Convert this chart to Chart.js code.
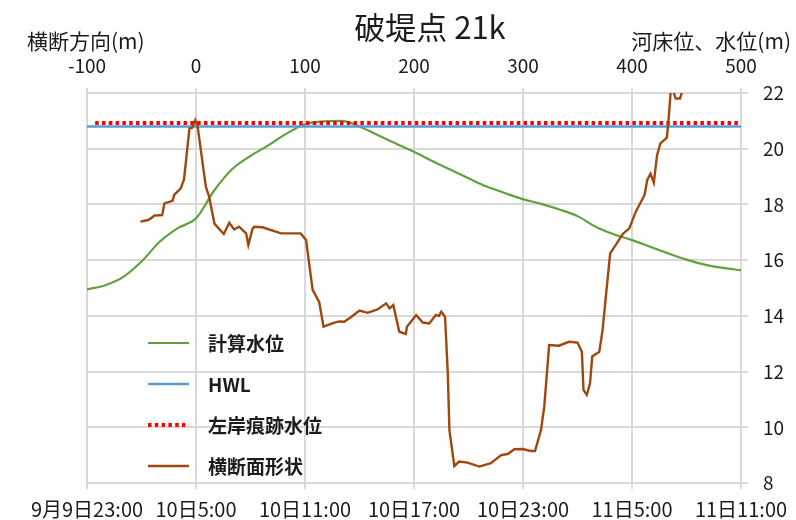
<!DOCTYPE html>
<html lang="ja">
<head>
<meta charset="utf-8">
<title>破堤点 21k</title>
<script src="https://cdn.jsdelivr.net/npm/chart.js@4.4.1/dist/chart.umd.min.js"></script>
<style>
  html, body { margin: 0; padding: 0; background: #fff; }
  #wrap { width: 796px; height: 520px; position: relative; }
</style>
</head>
<body>
<div id="wrap"><canvas id="levelChart"></canvas></div>
<script>
// --- data ---
const chartTitle = '破堤点 21k';
const topAxisTitle = '横断方向(m)';
const rightAxisTitle = '河床位、水位(m)';

// bottom axis: hours since 9月9日23:00, labelled every 6 hours
const timeLabels = ['9月9日23:00', '10日5:00', '10日11:00', '10日17:00', '10日23:00', '11日5:00', '11日11:00'];

// 計算水位, hourly from 9日23:00 to 11日11:00
const calcLevel = [
    14.95, 15.1, 15.4, 15.95, 16.66, 17.15, 17.5, 18.5, 19.27, 19.74,
    20.13, 20.55, 20.88, 20.98, 21.0, 20.8, 20.49, 20.19, 19.89, 19.56,
    19.25, 18.94, 18.64, 18.41, 18.19, 18.02, 17.82, 17.58, 17.2, 16.93,
    16.72, 16.48, 16.24, 16.02, 15.84, 15.72, 15.64
];

const hwlHours = [0, 36];
const hwlLevel = [20.8, 20.8];

const markHours = [0.45, 36];
const markLevel = [20.92, 20.92];

// 横断面形状: distance (m) and bed elevation (m)
const sectionDist = [
    -51, -44, -40, -38.5, -31, -29, -21.5, -20, -14, -11,
    -6, -3.5, -0.6, 1.5, 9, 12, 17, 25.5, 30.5, 35,
    39.5, 46, 48, 52, 53.5, 61, 78, 96, 101, 107,
    113, 117, 127, 131.5, 136, 142, 150, 157.5, 166.5, 174.5,
    177.5, 181, 186.5, 192.5, 193.5, 202, 208, 214, 220, 223,
    225, 228.5, 231, 232.5, 237, 241.5, 249, 260, 270.5, 280,
    286, 292, 299.5, 307, 311, 316.5, 319.5, 324, 333, 342,
    350, 354, 355.5, 358.5, 361.5, 363.5, 370, 373, 376, 380,
    385, 391.5, 397.5, 403.5, 411.5, 414, 417, 420, 423, 426,
    432, 433.5, 436, 440, 444, 448
];
const sectionElev = [
    17.38, 17.44, 17.54, 17.6, 17.62, 18.04, 18.13, 18.34, 18.58, 18.9,
    20.73, 20.75, 21.03, 20.8, 18.64, 18.28, 17.3, 16.94, 17.34, 17.1,
    17.2, 16.96, 16.54, 17.14, 17.2, 17.18, 16.96, 16.96, 16.72, 14.93,
    14.5, 13.61, 13.76, 13.8, 13.79, 13.95, 14.19, 14.11, 14.23, 14.45,
    14.27, 14.39, 13.43, 13.35, 13.61, 14.03, 13.76, 13.73, 14.03, 14.0,
    14.15, 13.97, 11.94, 9.9, 8.61, 8.77, 8.73, 8.59, 8.71, 9.0,
    9.04, 9.21, 9.22, 9.15, 9.15, 9.9, 10.74, 12.95, 12.93, 13.07,
    13.04, 12.71, 11.34, 11.16, 11.58, 12.54, 12.71, 13.49, 14.69, 16.25,
    16.54, 16.94, 17.14, 17.74, 18.34, 18.88, 19.1, 18.78, 19.77, 20.19,
    20.4, 21.03, 22.3, 21.8, 21.8, 22.3
];

const FONT = '"Noto Sans CJK JP", "Noto Sans", sans-serif';
const TEXT = '#1c1c1c';
const GRID = '#d9d9d9';

document.addEventListener('DOMContentLoaded', () => {
    initChart();
});

function pairs(xs, ys) {
    return xs.map((x, i) => ({ x: x, y: ys[i] }));
}

const overlayText = {
    id: 'overlayText',
    afterDraw(chart) {
        const ctx = chart.ctx;
        ctx.save();
        ctx.fillStyle = TEXT;
        ctx.textBaseline = 'middle';
        ctx.font = '31px ' + FONT;
        ctx.textAlign = 'center';
        ctx.fillText(chartTitle, 430, 27);
        ctx.font = '21px ' + FONT;
        ctx.textAlign = 'left';
        ctx.fillText(topAxisTitle, 27, 41);
        ctx.textAlign = 'right';
        ctx.fillText(rightAxisTitle, 791, 41);
        ctx.restore();
    }
};

// legend sits inside the plot, bottom left, one entry per row
const insideLegend = {
    id: 'insideLegend',
    afterDatasetsDraw(chart) {
        const ctx = chart.ctx;
        chart.data.datasets.forEach((ds, i) => {
            const y = 343 + i * 41;
            ctx.save();
            ctx.strokeStyle = ds.borderColor;
            ctx.lineWidth = ds.borderWidth;
            ctx.setLineDash(ds.borderDash || []);
            ctx.beginPath();
            ctx.moveTo(148, y);
            ctx.lineTo(189, y);
            ctx.stroke();
            ctx.setLineDash([]);
            ctx.fillStyle = TEXT;
            ctx.font = 'bold 19px ' + FONT;
            ctx.textAlign = 'left';
            ctx.textBaseline = 'middle';
            ctx.fillText(ds.label, 208, y + 1);
            ctx.restore();
        });
    }
};

function initChart() {
    const ctx = document.getElementById('levelChart').getContext('2d');
    Chart.defaults.font.family = FONT;
    Chart.defaults.color = TEXT;

    new Chart(ctx, {
        type: 'line',
        data: {
            datasets: [{
                label: '計算水位',
                data: calcLevel.map((v, h) => ({ x: h, y: v })),
                xAxisID: 'x',
                borderColor: '#62A03F',
                borderWidth: 2.2,
                pointRadius: 0,
                cubicInterpolationMode: 'monotone',
                order: 4
            }, {
                label: 'HWL',
                data: pairs(hwlHours, hwlLevel),
                xAxisID: 'x',
                borderColor: '#5B9BD5',
                borderWidth: 2.5,
                pointRadius: 0,
                order: 3
            }, {
                label: '左岸痕跡水位',
                data: pairs(markHours, markLevel),
                xAxisID: 'x',
                borderColor: '#FF0000',
                borderWidth: 4,
                borderDash: [3.5, 3.3],
                pointRadius: 0,
                order: 2
            }, {
                label: '横断面形状',
                data: pairs(sectionDist, sectionElev),
                xAxisID: 'x2',
                borderColor: '#9E480E',
                borderWidth: 2.4,
                pointRadius: 0,
                order: 1
            }]
        },
        options: {
            responsive: true,
            maintainAspectRatio: false,
            animation: false,
            layout: { padding: { left: 87, top: 0, right: 0, bottom: 0 } },
            plugins: {
                legend: { display: false },
                title: { display: false },
                tooltip: { enabled: false }
            },
            scales: {
                x: {
                    type: 'linear',
                    position: 'bottom',
                    min: 0,
                    max: 36,
                    afterFit: (s) => { s.height = 37; },
                    ticks: {
                        stepSize: 6,
                        autoSkip: false,
                        maxRotation: 0,
                        padding: 8,
                        font: { size: 20 },
                        callback: (v) => timeLabels[v / 6]
                    },
                    grid: { drawOnChartArea: false, color: GRID, lineWidth: 2, tickLength: 6 },
                    border: { color: GRID, width: 2 }
                },
                x2: {
                    type: 'linear',
                    position: 'top',
                    min: -100,
                    max: 500,
                    afterFit: (s) => { s.height = 93; },
                    ticks: {
                        stepSize: 100,
                        autoSkip: false,
                        maxRotation: 0,
                        padding: 11,
                        font: { size: 19 }
                    },
                    grid: { color: GRID, lineWidth: 2, tickLength: 5 },
                    border: { color: GRID, width: 2 }
                },
                y: {
                    position: 'right',
                    min: 8,
                    max: 22,
                    afterFit: (s) => { s.width = 55; },
                    ticks: {
                        stepSize: 2,
                        padding: 15,
                        font: { size: 19 }
                    },
                    grid: { color: GRID, lineWidth: 2, tickLength: 7 },
                    border: { color: GRID, width: 2 }
                }
            }
        },
        plugins: [overlayText, insideLegend]
    });
}
</script>
</body>
</html>
